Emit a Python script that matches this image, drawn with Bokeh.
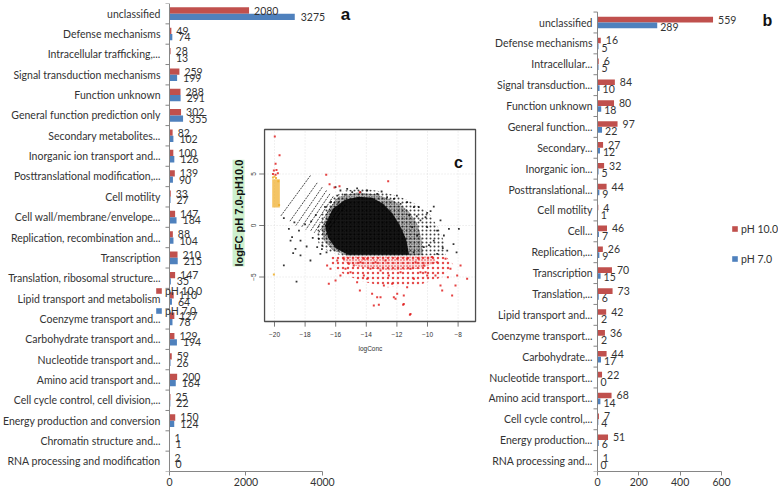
import math
from bokeh.plotting import figure
from bokeh.models import (Range1d, LinearAxis, FixedTicker, ColumnDataSource, Legend,
                          LegendItem, Label)
from bokeh.layouts import row
from bokeh.embed import file_html
from bokeh.resources import INLINE
from bokeh.core.properties import value

# ---------------- data : panel a ----------------
cats_a = ["unclassified", "Defense mechanisms", "Intracellular trafficking,...",
          "Signal transduction mechanisms", "Function unknown",
          "General function prediction only", "Secondary metabolites...",
          "Inorganic ion transport and...", "Posttranslational modification,...",
          "Cell motility", "Cell wall/membrane/envelope...",
          "Replication, recombination and...", "Transcription",
          "Translation, ribosomal structure...", "Lipid transport and metabolism",
          "Coenzyme transport and...", "Carbohydrate transport and...",
          "Nucleotide transport and...", "Amino acid transport and...",
          "Cell cycle control, cell division,...", "Energy production and conversion",
          "Chromatin structure and...", "RNA processing and modification"]
ph10_a = [2080, 49, 28, 259, 288, 302, 82, 100, 139, 33, 147, 88, 210, 147, 110, 127,
          129, 59, 200, 25, 150, 1, 2]
ph7_a = [3275, 74, 13, 199, 291, 355, 102, 126, 90, 27, 184, 104, 215, 35, 64, 78,
         194, 26, 164, 22, 124, 1, 0]
ticks_a = [0, 2000, 4000]

# ---------------- data : panel b ----------------
cats_b = ["unclassified", "Defense mechanisms", "Intracellular...", "Signal transduction...",
          "Function unknown", "General function...", "Secondary...", "Inorganic ion...",
          "Posttranslational...", "Cell motility", "Cell...", "Replication,...",
          "Transcription", "Translation,...", "Lipid transport and...",
          "Coenzyme transport...", "Carbohydrate...", "Nucleotide transport...",
          "Amino acid transport...", "Cell cycle control,...", "Energy production...",
          "RNA processing and..."]
ph10_b = [559, 16, 6, 84, 80, 97, 27, 32, 44, 4, 46, 26, 70, 73, 42, 36, 44, 22, 68, 7, 51, 1]
ph7_b = [289, 5, 5, 10, 18, 22, 12, 5, 9, 1, 7, 9, 15, 6, 2, 2, 17, 0, 14, 4, 6, 0]
ticks_b = [0, 200, 400, 600]
series = ["pH 10.0", "pH 7.0"]

# ---------------- data : panel c (MA plot) ----------------
c_xticks = [-20, -18, -16, -14, -12, -10, -8]
c_yticks = [-5, 0, 5]
c_xlim = (-20.65, -6.86)
c_ylim = (-9.32, 9.32)
# outlines of the black cloud: solid core, medium and sparse speckled rings
core_x = [-16.7, -16.2, -15.4, -14.5, -13.6, -12.9, -12.3, -11.8, -11.4, -11.2, -15.2, -16.0,
          -16.5]
core_y = [0.0, 1.6, 2.5, 2.8, 2.7, 2.1, 1.2, 0.0, -1.3, -2.85, -2.85, -2.2, -1.2]
mid_x = [-16.9, -16.5, -15.8, -14.6, -13.3, -12.2, -11.3, -10.7, -10.4, -10.3, -12.0, -15.2,
         -16.2, -16.8]
mid_y = [-0.3, 1.5, 2.8, 3.2, 3.0, 2.4, 1.5, 0.3, -1.2, -2.9, -2.95, -2.95, -2.4, -1.4]
halo_x = [-17.3, -16.9, -16.3, -15.4, -14.2, -13.0, -11.8, -10.8, -9.9, -9.3, -8.9, -8.8,
          -12.0, -15.5, -16.5, -17.1]
halo_y = [-0.8, 1.2, 2.6, 3.4, 3.6, 3.3, 2.8, 2.1, 1.2, -0.2, -1.6, -2.9, -2.95, -2.95, -2.5,
          -1.8]
# outlines of the red (down-regulated) region: dense upper band and sparse outer zone
rband_x = [-15.6, -9.6, -9.4, -10.5, -12.5, -14.5, -15.5]
rband_y = [-3.0, -3.0, -3.6, -4.2, -4.4, -4.0, -3.5]
rzone_x = [-16.3, -8.8, -8.3, -9.0, -10.6, -12.6, -14.4, -15.8, -16.4]
rzone_y = [-3.0, -3.0, -3.8, -5.0, -5.8, -6.0, -5.4, -4.5, -3.6]
# yellow column at logConc = -20
ycol_x = [-20.15, -19.65, -19.65, -20.15]
ycol_y = [1.75, 1.75, 4.5, 4.5]
# streaks of low-count genes
st_x0 = [-17.65, -17.21, -16.88, -16.6, -16.38, -16.16, -15.95, -15.75, -15.55, -15.38]
st_y0 = [4.85, 4.14, 3.72, 3.4, 3.07, 2.82, 2.59, 2.4, 2.2, 2.0]
st_x1 = [-19.6, -19.0, -18.6, -18.25, -17.95, -17.65, -17.4, -17.15, -16.9, -16.7]
st_y1 = [0.9, 0.4, 0.0, -0.2, -0.4, -0.55, -0.7, -0.8, -0.9, -1.0]
blk_x = [-19.39, -19.06, -18.85, -18.78, -19.39, -18.56, -17.65, -17.9, -18.3, -17.21, -17.0,
         -18.0, -18.4, -17.5, -16.9, -16.6, -9.8, -10.46, -10.02, -9.37, -9.15, -9.59, -8.93,
         -10.24, -10.89, -11.33, -11.76, -12.2, -12.64, -13.29, -13.94, -14.38, -14.92, -15.25,
         -15.69, -16.01, -9.37, -8.71, -10.57, -10.13, -11.0, -10.68, -9.59, -7.95, -8.6,
         -10.02, -8.3, -9.0, -9.9, -10.9, -8.1, -11.2, -10.7, -12.0, -13.0, -14.6, -15.4,
         -15.9, -16.3, -16.7, -17.3, -17.6, -18.7, -18.63, -18.95, -17.1, -16.88, -18.3]
blk_y = [0.71, -0.32, -1.13, -2.69, -3.88, -5.44, -3.4, -2.04, -1.46, -2.1, -2.75,
         0.1, -0.5, -1.2, -2.3, -2.6, 1.39, 0.49, -0.16, -0.49, 0.49, -1.46, -0.97,
         -2.1, 1.78, 2.27, 2.1, 2.59, 2.75, 3.07, 3.4, 3.24, 3.24, 3.56,
         3.4, 3.72, -2.75, -2.43, 1.78, 0.81, -0.16, -0.97, 1.84, -0.32, -0.32,
         1.23, -1.8, -2.2, -1.9, -2.6, -2.6, 1.0, 0.9, 2.9, 3.3, 3.6, 3.0,
         2.9, 2.3, 1.8, 1.0, 0.4, 0.3, -2.27, -1.46, -1.29, -1.94, -2.91]
red_x = [-14.16, -13.73, -13.94, -13.62, -13.18, -13.29, -12.85, -12.31, -12.2, -12.09, -11.55,
         -11.59, -11.15, -11.33, -10.89, -10.46, -10.02, -9.15, -9.04, -8.39, -8.06, -7.84,
         -7.41, -8.5, -8.82, -9.37, -9.7, -10.24, -10.78, -11.11, -11.76, -12.53, -13.07,
         -13.4, -12.75, -11.98, -11.33, -10.57, -10.13, -9.48, -8.67, -8.17,
         -16.56, -16.34, -16.45, -16.01, -15.69, -15.36, -15.03, -14.82, -14.6, -14.42, -14.38,
         -13.94, -14.16, -15.9, -15.47, -15.14, -11.11, -13.51, -13.07, -11.98, -11.55,
         -19.98, -19.67, -19.93, -20.04, -19.87, -19.78, -20.1, -19.93,
         -16.62, -16.4, -16.08, -15.75, -14.42, -12.57]
red_y = [-3.24, -4.21, -5.18, -6.63, -7.7, -6.96, -5.83, -5.66, -6.96, -7.12, -6.8,
         -7.7, -8.67, -5.99, -5.18, -4.53, -4.85, -5.83, -6.31, -6.8, -4.85, -3.88,
         -5.18, -4.21, -3.24, -3.56, -3.07, -3.88, -3.56, -4.21, -4.53, -4.85, -4.37,
         -3.56, -3.4, -3.24, -3.24, -3.24, -4.53, -4.85, -5.02, -5.83,
         -3.88, -4.21, -5.66, -5.34, -4.85, -4.21, -4.53, -3.88, -5.5, -6.31, -3.56,
         -3.24, -4.85, -3.4, -3.24, -3.72, -8.58, -7.77, -6.96, -6.63, -7.61,
         8.64, 6.83, 5.99, 5.34, 5.4, 5.08, 5.0, 4.92,
         4.92, 4.0, 3.69, 3.82, 3.24, 4.3]
yel_x = [-20.0, -19.9, -20.1, -19.75, -19.7, -20.04]
yel_y = [4.75, 4.6, 4.65, 4.3, 2.0, -4.76]

# ---------------- styling ----------------
FONT = "Lato"
RED = "#C0504D"
BLUE = "#4F81BD"
GRAY = "#868686"
TXT = "#333333"
FS = "10.5px"


def category_axis(p, cats, gap):
    """Excel-like category axis drawn at value 0: line, boundary ticks, labels."""
    n = len(cats)
    centers = [n - i - 0.5 for i in range(n)]
    p.segment(x0=[0], x1=[0], y0=[0], y1=[n], line_color=GRAY, line_width=1)
    p.ray(x=[0] * (n + 1), y=list(range(n + 1)), length=4, length_units="screen",
          angle=math.pi, line_color=GRAY, line_width=1)
    p.text(x=[0] * n, y=centers, text=cats, x_offset=-gap, text_align="right",
           text_baseline="middle", text_font=value(FONT), text_font_size=FS,
           text_color=TXT)


def value_axis(p, ticks, bounds):
    ax = LinearAxis(ticker=FixedTicker(ticks=ticks), bounds=bounds,
                    axis_line_color=GRAY, major_tick_line_color=GRAY, major_tick_out=4,
                    major_tick_in=0, minor_tick_out=0, minor_tick_in=0, major_label_standoff=2,
                    major_label_text_font=FONT, major_label_text_font_size=FS,
                    major_label_text_color=TXT)
    p.add_layout(ax, "below")


def bars(p, cats, v10, v7, off, h, lab_dy7, xoff7):
    n = len(cats)
    yc = [n - i - 0.5 for i in range(n)]
    src = ColumnDataSource(dict(y10=[y + off for y in yc], y7=[y - off for y in yc],
                                y7l=[y - lab_dy7 for y in yc], ph10=v10, ph7=v7,
                                l10=[str(v) for v in v10], l7=[str(v) for v in v7]))
    r10 = p.hbar(y="y10", left=0, right="ph10", height=h, fill_color=RED, line_color=None,
                 source=src)
    r7 = p.hbar(y="y7", left=0, right="ph7", height=h, fill_color=BLUE, line_color=None,
                source=src)
    p.text(x="ph10", y="y10", text="l10", x_offset=5, text_baseline="middle",
           text_font=value(FONT), text_font_size=FS, text_color=TXT, source=src)
    p.text(x="ph7", y="y7l", text="l7", x_offset=xoff7, text_baseline="middle",
           text_font=value(FONT), text_font_size=FS, text_color=TXT, source=src)
    return r10, r7


def make_legend(p, r10, r7, loc, spacing):
    leg = Legend(items=[LegendItem(label=series[0], renderers=[r10]),
                        LegendItem(label=series[1], renderers=[r7])],
                 location=loc, glyph_width=7, glyph_height=7, label_standoff=3,
                 spacing=spacing, padding=0, margin=0, label_height=13,
                 border_line_color=None, background_fill_alpha=0, label_text_font=FONT,
                 label_text_font_size=FS, label_text_color=TXT)
    p.add_layout(leg)


def base_fig(fw, fh, yr, xr):
    p = figure(frame_width=fw, frame_height=fh, output_backend="svg", toolbar_location=None,
               y_range=Range1d(*yr), x_range=Range1d(*xr),
               x_axis_location=None, y_axis_location=None,
               min_border_left=0, min_border_right=0, min_border_top=3,
               min_border_bottom=19)
    p.outline_line_color = None
    p.xgrid.visible = False
    p.ygrid.visible = False
    return p


# ======================= figure A (panels a + c) =======================
nA = len(cats_a)
pa = base_fig(488, 468, (0, nA), (-4418.3, 8340))
pa.extra_y_ranges = {"cy": Range1d(-23.883, 21.553)}
pa.extra_x_ranges = {"cx": Range1d(-37.908, -6.013)}

r10a, r7a = bars(pa, cats_a, ph10_a, ph7_a, 0.155, 0.31, 0.155, 6)
value_axis(pa, ticks_a, (0, 4000))
category_axis(pa, cats_a, 9)
make_legend(pa, r10a, r7a, (155, 154), 7)
pa.add_layout(Label(x=4601, y=22.46, text="a", text_font="Liberation Sans",
                    text_font_style="bold", text_font_size="17px", text_align="center",
                    text_baseline="middle", text_color="#111111"))

# ---- inset panel c ----
C = dict(x_range_name="cx", y_range_name="cy")
pa.quad(left=[c_xlim[0]], right=[c_xlim[1]], bottom=[c_ylim[0]], top=[c_ylim[1]],
        fill_color="white", line_color=None, **C)
pa.segment(x0=c_xticks, x1=c_xticks, y0=[c_ylim[0]] * len(c_xticks),
           y1=[c_ylim[1]] * len(c_xticks), line_color="#dcdcdc", line_dash="1 2",
           line_width=0.8, **C)
pa.segment(x0=[c_xlim[0]] * len(c_yticks), x1=[c_xlim[1]] * len(c_yticks), y0=c_yticks,
           y1=c_yticks, line_color="#dcdcdc", line_dash="1 2", line_width=0.8, **C)
pa.patch(x=halo_x, y=halo_y, fill_alpha=0, line_color=None, hatch_pattern=".",
         hatch_color="black", hatch_scale=4, hatch_weight=1.1, hatch_alpha=0.75, **C)
pa.patch(x=mid_x, y=mid_y, fill_color="black", fill_alpha=0.25, line_color=None,
         hatch_pattern=".", hatch_color="black", hatch_scale=2.5, hatch_weight=1.2,
         hatch_alpha=0.9, **C)
pa.patch(x=rzone_x, y=rzone_y, fill_alpha=0, line_color=None, hatch_pattern=".",
         hatch_color="#e02020", hatch_scale=5, hatch_weight=1.1, hatch_alpha=0.8, **C)
pa.patch(x=rband_x, y=rband_y, fill_color="#e02020", fill_alpha=0.12, line_color=None,
         hatch_pattern=".", hatch_color="#e02020", hatch_scale=3, hatch_weight=1.1,
         hatch_alpha=0.85, **C)
pa.patch(x=core_x, y=core_y, fill_color="black", fill_alpha=0.88, line_color=None, **C)
pa.patch(x=ycol_x, y=ycol_y, fill_color="#f0b030", fill_alpha=0.75, line_color=None, **C)
pa.segment(x0=st_x0, y0=st_y0, x1=st_x1, y1=st_y1, line_color="black", line_width=0.9,
           line_alpha=0.8, line_dash="2 1", **C)
pa.scatter(x=blk_x, y=blk_y, marker="square", size=1.8, fill_color="black",
           line_color=None, fill_alpha=0.8, **C)
pa.scatter(x=red_x, y=red_y, marker="square", size=2, fill_color="#e02020",
           line_color=None, fill_alpha=0.85, **C)
pa.scatter(x=yel_x, y=yel_y, marker="square", size=2, fill_color="#f0b030",
           line_color=None, fill_alpha=0.9, **C)
pa.quad(left=[c_xlim[0]], right=[c_xlim[1]], bottom=[c_ylim[0]], top=[c_ylim[1]],
        fill_color=None, line_color="#4d4d4d", line_width=1.3, **C)
pa.segment(x0=c_xticks, x1=c_xticks, y0=[c_ylim[0]] * len(c_xticks),
           y1=[c_ylim[0] - 0.5] * len(c_xticks), line_color="#555555", line_width=0.8, **C)
pa.segment(x0=[c_xlim[0]] * len(c_yticks), x1=[c_xlim[0] - 0.35] * len(c_yticks),
           y0=c_yticks, y1=c_yticks, line_color="#555555", line_width=0.8, **C)
pa.text(x=c_xticks, y=[c_ylim[0] - 1.25] * len(c_xticks),
        text=["\u2212" + str(-t) for t in c_xticks], text_align="center",
        text_baseline="middle", text_font=value("Liberation Sans"), text_font_size="6.5px",
        text_color="#333333", **C)
pa.text(x=[c_xlim[0] - 0.72] * len(c_yticks), y=c_yticks,
        text=[("\u2212" + str(-t)) if t < 0 else str(t) for t in c_yticks], angle=math.pi / 2,
        text_align="center", text_baseline="middle", text_font=value("Liberation Sans"),
        text_font_size="6.5px", text_color="#333333", **C)
pa.add_layout(Label(x=-13.73, y=-11.94, text="logConc", text_font="Liberation Sans",
                    text_font_size="6.5px", text_align="center", text_baseline="middle",
                    text_color="#333333", **C))
pa.add_layout(Label(x=-22.35, y=1.2, text="logFC pH 7.0-pH10.0", angle=math.pi / 2,
                    text_font="Liberation Sans", text_font_style="bold",
                    text_font_size="11px", text_align="center", text_baseline="middle",
                    text_color="#111111", background_fill_color="#cdf0cd", **C))
pa.add_layout(Label(x=-7.97, y=6.12, text="c", text_font="Liberation Sans",
                    text_font_style="bold", text_font_size="16px", text_align="center",
                    text_baseline="middle", text_color="#111111", **C))

# ======================= figure B (panel b) =======================
nB = len(cats_b)
pb = base_fig(290, 468, (0, nB + 0.41), (-527.3, 875.7))

r10b, r7b = bars(pb, cats_b, ph10_b, ph7_b, 0.14, 0.27, 0.2, 3)
value_axis(pb, ticks_b, (0, 600))
category_axis(pb, cats_b, 5)
make_legend(pb, r10b, r7b, (243, 206), 17)
pb.add_layout(Label(x=822, y=21.6, text="b", text_font="Liberation Sans",
                    text_font_style="bold", text_font_size="16px", text_align="center",
                    text_baseline="middle", text_color="#111111"))

layout = row(pa, pb, spacing=0)
open("out.html", "w").write(file_html(layout, INLINE))
